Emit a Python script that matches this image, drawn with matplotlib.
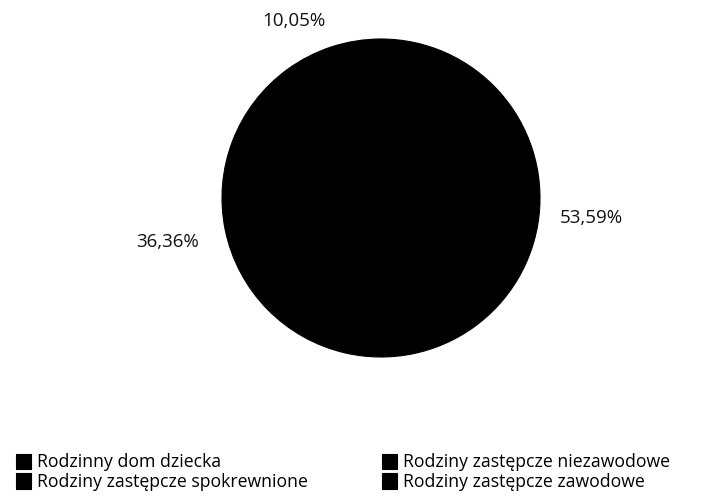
import numpy as np
import matplotlib.pyplot as plt

plt.rcParams['font.family'] = ['Open Sans', 'DejaVu Sans']

# ------------------------------- DATA -----------------------------------
categories = ["Rodzinny dom dziecka", "Rodziny zastępcze spokrewnione",
              "Rodziny zastępcze niezawodowe", "Rodziny zastępcze zawodowe"]
shares = [10.05, 36.36, 53.59, 0.0]
labels = ["10,05%", "36,36%", "53,59%", ""]

# label placement: distance from centre (in radii) and angle nudge (deg)
label_dist = [1.24, 1.37, 1.33, 1.3]
label_nudge = [8, 0, 1, 0]

fig = plt.figure(figsize=(7.15, 4.99), dpi=100)
W, H = 715, 499
cx, cy, r = 381, 198, 159
ax = fig.add_axes([(cx - r) / W, (H - cy - r) / H, 2 * r / W, 2 * r / H])

wedges, _ = ax.pie(shares, startangle=90, counterclock=True,
                   colors=["black"] * len(shares),
                   wedgeprops=dict(linewidth=0.8, edgecolor="black"))
ax.set_aspect("equal")
ax.set_xlim(-1, 1)
ax.set_ylim(-1, 1)

# place percentage labels around the pie
for w, lab, d, nd in zip(wedges, labels, label_dist, label_nudge):
    if not lab:
        continue
    ang = np.deg2rad((w.theta1 + w.theta2) / 2 + nd)
    ax.text(d * np.cos(ang), d * np.sin(ang), lab, ha="center", va="center",
            fontsize=13.5, color="#111111")

leg = fig.legend(wedges, categories, ncol=2, loc="lower left",
                 bbox_to_anchor=(0.0, -0.016), frameon=False, fontsize=12.7,
                 handlelength=0.85, handleheight=0.95, handletextpad=0.35,
                 labelspacing=0.1, columnspacing=4.2)

plt.savefig("out.png", dpi=100)
